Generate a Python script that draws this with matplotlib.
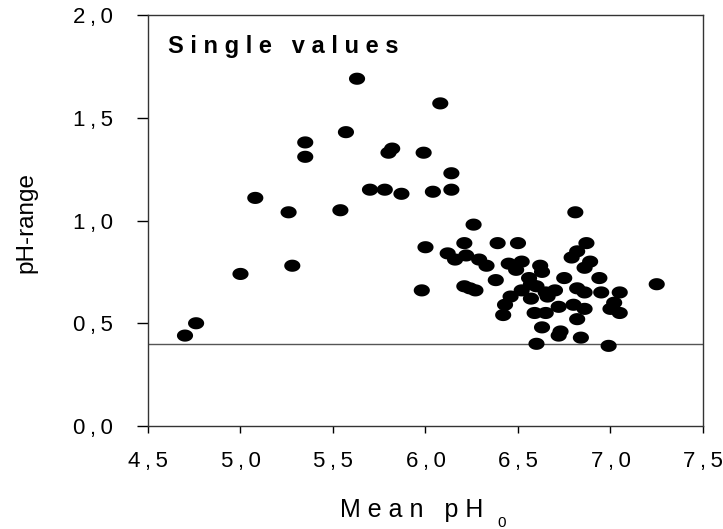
# Scatter of single pH-range values against mean pH0
import matplotlib.pyplot as plt
import numpy as np
from matplotlib.path import Path

plt.rcParams['font.family'] = ['Liberation Sans', 'DejaVu Sans']

# values
mean_ph = [4.70, 4.76, 5.00, 5.08, 5.26, 5.28, 5.35, 5.35, 5.54, 5.57,
           5.63, 5.70, 5.78, 5.82, 5.80, 5.87, 5.99, 6.08, 6.04, 6.14,
           6.14, 6.00, 5.98, 6.26, 6.81, 7.25, 6.60, 6.99, 6.84,
           6.21, 6.39, 6.50, 6.87, 6.82, 6.79, 6.12, 6.16, 6.22, 6.29,
           6.33, 6.45, 6.52, 6.49, 6.62, 6.63, 6.89, 6.86, 6.94, 6.38,
           6.21, 6.27, 6.24, 6.56, 6.57, 6.60, 6.52, 6.46, 6.43, 6.42,
           6.57, 6.65, 6.66, 6.70, 6.75, 6.82, 6.86, 6.95, 7.05, 7.02,
           7.00, 7.05, 6.72, 6.80, 6.86, 6.82, 6.59, 6.65, 6.63, 6.73,
           6.72]
ph_range = [0.44, 0.50, 0.74, 1.11, 1.04, 0.78, 1.38, 1.31, 1.05, 1.43,
            1.69, 1.15, 1.15, 1.35, 1.33, 1.13, 1.33, 1.57, 1.14, 1.23,
            1.15, 0.87, 0.66, 0.98, 1.04, 0.69, 0.40, 0.39, 0.43,
            0.89, 0.89, 0.89, 0.89, 0.85, 0.82, 0.84, 0.81, 0.83, 0.81,
            0.78, 0.79, 0.80, 0.76, 0.78, 0.75, 0.80, 0.77, 0.72, 0.71,
            0.68, 0.66, 0.67, 0.72, 0.69, 0.68, 0.66, 0.63, 0.59, 0.54,
            0.62, 0.65, 0.63, 0.66, 0.72, 0.67, 0.65, 0.65, 0.65, 0.60,
            0.57, 0.55, 0.58, 0.59, 0.57, 0.52, 0.55, 0.55, 0.48, 0.46,
            0.44]
limit = 0.4

xticks = [4.5, 5.0, 5.5, 6.0, 6.5, 7.0, 7.5]
yticks = [0.0, 0.5, 1.0, 1.5, 2.0]

def comma(v):
    return ('%.1f' % v).replace('.', '\u2009,\u2009')

# wide ellipse marker
t = np.linspace(0, 2*np.pi, 60)
ellipse = Path(np.column_stack([1.33*np.cos(t), np.sin(t)]))

fig = plt.figure(figsize=(7.23, 5.29), dpi=100)
ax = fig.add_axes([0.2047, 0.1947, 0.7676, 0.7769])

ax.axhline(limit, color='#555555', lw=1.0, zorder=1)
ax.scatter(mean_ph, ph_range, marker=ellipse, s=135, c='black',
           edgecolors='none', zorder=2)

ax.set_xlim(4.5, 7.5)
ax.set_ylim(0, 2.0)
ax.set_xticks(xticks)
ax.set_yticks(yticks)
ax.set_xticklabels([comma(v) for v in xticks], fontsize=16)
ax.set_yticklabels([comma(v) for v in yticks], fontsize=16)
ax.tick_params(axis='x', direction='out', length=5, width=1, pad=13)
ax.tick_params(axis='y', direction='out', length=8, width=1, pad=17)
for s in ax.spines.values():
    s.set_linewidth(1.0)
    s.set_color('#333333')

ax.set_ylabel('pH-range', fontsize=17.5)
ax.yaxis.set_label_coords(-0.20, 0.496)

# x label with lowered subscript, letter-spaced as in the original
fig.text(340/723, 1 - 517/529, 'M e a n   p H', fontsize=18,
         ha='left', va='baseline')
fig.text(497/723, 1 - 516/529, '0', fontsize=11, ha='left', va='top')

ax.text(0.036, 0.9075, 'S i n g l e   v a l u e s',
        transform=ax.transAxes, fontsize=17, fontweight='bold',
        ha='left', va='baseline')

fig.savefig('out.png', dpi=100)
